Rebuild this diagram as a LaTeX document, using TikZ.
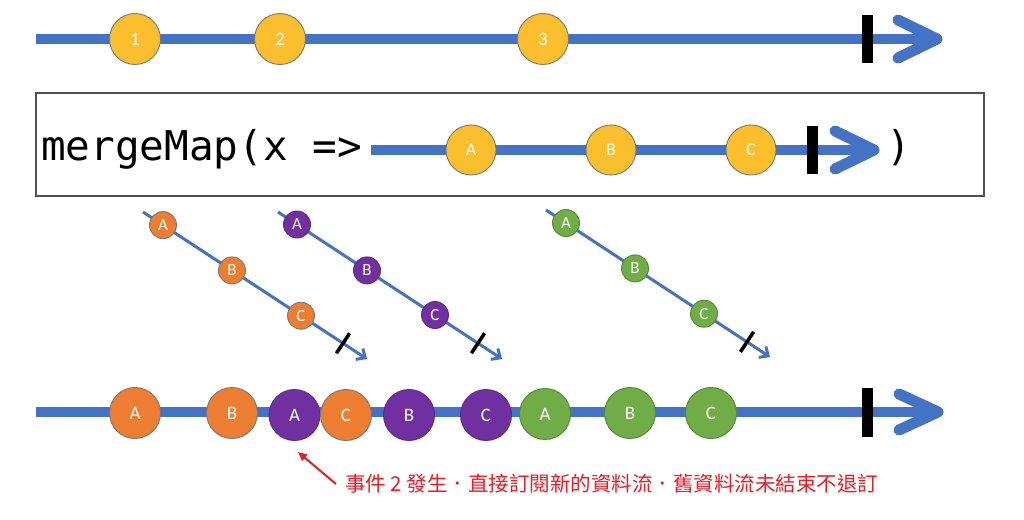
\documentclass[tikz,border=0pt]{standalone}
\usepackage{fontspec}
\setmainfont{Carlito}
\newfontfamily\codefont{DejaVu Sans Mono}
\newfontfamily\cjkfont{Noto Sans CJK TC}
\usetikzlibrary{arrows.meta,calc}
\definecolor{lblue}{RGB}{68,114,196}
\definecolor{cyellow}{RGB}{251,190,45}
\definecolor{corange}{RGB}{237,125,49}
\definecolor{cpurple}{RGB}{112,48,160}
\definecolor{cgreen}{RGB}{112,173,71}
\definecolor{cgray}{RGB}{120,120,120}
\definecolor{cpurpled}{RGB}{95,40,140}
\definecolor{cgreend}{RGB}{84,135,55}
\definecolor{cred}{RGB}{232,28,36}
\definecolor{boxgray}{RGB}{80,80,80}
\begin{document}
\begin{tikzpicture}[x=1pt,y=-1pt,
  mainline/.style={line width=10pt, draw=lblue},
  chev/.style={line width=11pt, draw=lblue, line cap=round, line join=round},
  tickbar/.style={fill=black, minimum width=11pt, minimum height=48pt, inner sep=0pt, draw=none},
  ball/.style={circle, minimum size=51pt, inner sep=0pt, text=white, line width=0.9pt, font=\fontsize{19}{19}\selectfont},
  sball/.style={circle, minimum size=27pt, inner sep=0pt, text=white, line width=0.9pt, font=\fontsize{17}{17}\selectfont},
  yel/.style={fill=cyellow, draw=cgray},
  ora/.style={fill=corange, draw=cgray},
  pur/.style={fill=cpurple, draw=cpurpled},
  gre/.style={fill=cgreen, draw=cgreend},
  diag/.style={line width=3pt, draw=lblue, -{Straight Barb[length=7pt,width=13pt,line width=3pt]}},
  dtick/.style={fill=black, minimum width=3.5pt, minimum height=24pt, inner sep=0pt, rotate=-33.4},
  codetext/.style={font=\codefont\fontsize{41}{41}\selectfont, inner sep=0pt, anchor=base west},
  redarr/.style={draw=cred, line width=2pt, -{Triangle[length=9pt,width=8pt]}},
]
\useasboundingbox (0,0) rectangle (1024,519);

% ---------- top stream ----------
\coordinate (ts) at (36,39);
\coordinate (te) at (937,39);
\draw[mainline] (ts) -- (te);
\draw[chev] ($(te)+(-39,-19)$) -- (te) -- ($(te)+(-39,19)$);
\node[tickbar] (tt) at (867,39) {};
\node[ball,yel] (t1) at (135,39) {1};
\node[ball,yel] (t2) at (280,39) {2};
\node[ball,yel] (t3) at (543,39) {3};

% ---------- mergeMap box ----------
\draw[boxgray, line width=1.2pt] (36,93) rectangle (984,196);
\node[codetext] (code) at (41,160) {mergeMap(x =>};
\node[font=\codefont\fontsize{41}{41}\selectfont, inner sep=0pt, anchor=base] (paren) at (899,160) {)};
\coordinate (bs) at (371,150);
\coordinate (be) at (874,150);
\draw[mainline] (bs) -- (be);
\draw[chev] ($(be)+(-39,-19)$) -- (be) -- ($(be)+(-39,19)$);
\node[tickbar] (bt) at (812,150) {};
\node[ball,yel,minimum size=50pt,font=\fontsize{18}{18}\selectfont] (bA) at (471,150) {A};
\node[ball,yel,minimum size=50pt,font=\fontsize{18}{18}\selectfont] (bB) at (611,150) {B};
\node[ball,yel,minimum size=50pt,font=\fontsize{18}{18}\selectfont] (bC) at (751,150) {C};

% ---------- inner stream 1 (orange) ----------
\coordinate (os) at (143,212);
\coordinate (oe) at (367,359);
\draw[diag] (os) -- (oe);
\node[dtick] (ot) at (343,343.3) {};
\node[sball,ora] (oA) at (163,225.1) {A};
\node[sball,ora] (oB) at (232,270.4) {B};
\node[sball,ora] (oC) at (301,315.7) {C};

% ---------- inner stream 2 (purple) ----------
\coordinate (ps) at (278,212);
\coordinate (pe) at (502,359);
\draw[diag] (ps) -- (pe);
\node[dtick] (pt) at (478,343.2) {};
\node[sball,pur] (pA) at (297,224.5) {A};
\node[sball,pur] (pB) at (367,270.4) {B};
\node[sball,pur] (pC) at (435,315) {C};

% ---------- inner stream 3 (green) ----------
\coordinate (gs) at (546,210);
\coordinate (ge) at (770,357);
\draw[diag] (gs) -- (ge);
\node[dtick] (gt) at (747,341.9) {};
\node[sball,gre] (gA) at (566,223) {A};
\node[sball,gre] (gB) at (635,268.4) {B};
\node[sball,gre] (gC) at (704,313.7) {C};

% ---------- output stream ----------
\coordinate (rs) at (36,412);
\coordinate (re) at (938,412);
\draw[mainline] (rs) -- (re);
\draw[chev] ($(re)+(-39,-18)$) -- (re) -- ($(re)+(-39,18)$);
\node[tickbar,minimum height=49pt] (rt) at (867,412) {};
\node[ball,ora] (r1) at (135,413) {A};
\node[ball,ora] (r2) at (232,413) {B};
\node[ball,pur] (r3) at (294.5,415) {A};
\node[ball,ora] (r4) at (346,415) {C};
\node[ball,pur] (r5) at (409,415) {B};
\node[ball,pur] (r6) at (486,415) {C};
\node[ball,gre] (r7) at (545,414) {A};
\node[ball,gre] (r8) at (630,413) {B};
\node[ball,gre] (r9) at (711,413) {C};

% ---------- annotation ----------
\node[anchor=west, inner sep=0pt, text=cred, font=\cjkfont\fontsize{20.5}{20.5}\selectfont] (note) at (345,484)
  {事件 2 發生．直接訂閱新的資料流．舊資料流未結束不退訂};
\coordinate (redtail) at (336,484);
\coordinate (redtip) at (298,452);
\draw[redarr] (redtail) -- (redtip);
\end{tikzpicture}
\end{document}
